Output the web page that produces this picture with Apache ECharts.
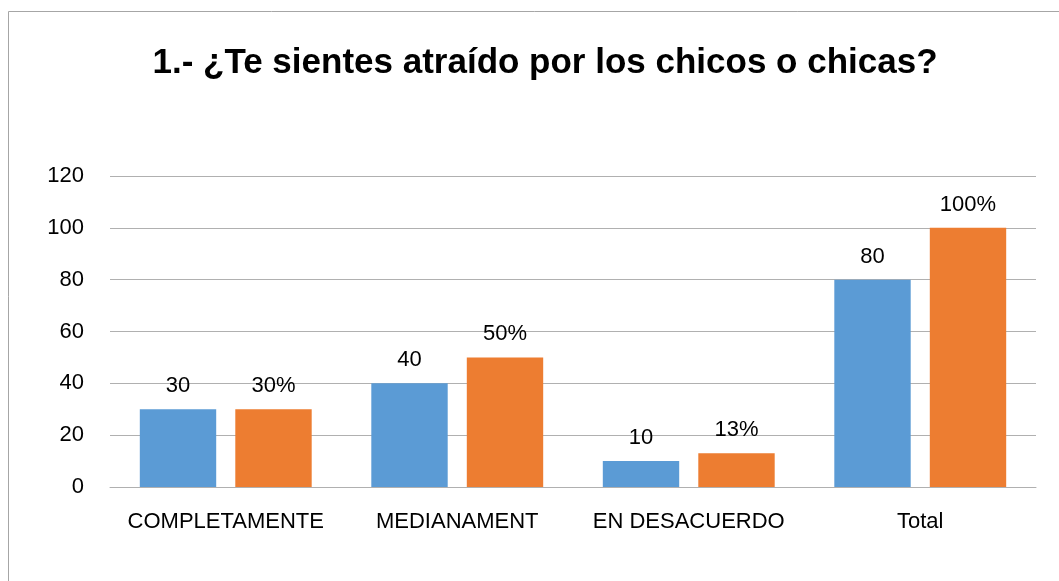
<!DOCTYPE html>
<html>
<head>
<meta charset="utf-8">
<script src="https://cdn.jsdelivr.net/npm/echarts@6/dist/echarts.min.js"></script>
<style>
  html,body{margin:0;padding:0;background:#fff;}
  #grafico{width:1059px;height:581px;}
</style>
</head>
<body>
<div id="grafico"></div>
<script>
// datos de la encuesta
var categorias = ['COMPLETAMENTE', 'MEDIANAMENT', 'EN DESACUERDO', 'Total'];
var cantidad = [30, 40, 10, 80];
var porcentaje = [30, 50, 13, 100];
var ejeY = { min: 0, max: 120, intervalo: 20 };

var myChart = echarts.init(document.getElementById('grafico'));

var fuente = '"Liberation Sans", Arial, sans-serif';

option = {
    animation: false,
    title: {
        text: '1.- ¿Te sientes atraído por los chicos o chicas?',
        left: 540,
        top: 41,
        textAlign: 'center',
        textStyle: {
            fontFamily: fuente,
            fontWeight: 'bold',
            fontSize: 35,
            color: '#000'
        }
    },
    graphic: [{
        type: 'rect',
        shape: { x: 8.5, y: 11.5, width: 1100, height: 620 },
        style: { fill: 'none', stroke: '#a6a6a6', lineWidth: 1 },
        silent: true
    }],
    grid: {
        left: 110,
        right: 23,
        top: 176,
        bottom: 94
    },
    xAxis: {
        type: 'category',
        data: categorias,
        axisTick: { show: false },
        axisLine: { lineStyle: { color: '#b0b0b0', width: 1 } },
        axisLabel: {
            interval: 0,
            fontFamily: fuente,
            fontSize: 22,
            color: '#000',
            margin: 24
        }
    },
    yAxis: {
        type: 'value',
        min: ejeY.min,
        max: ejeY.max,
        interval: ejeY.intervalo,
        axisLine: { show: false },
        axisTick: { show: false },
        splitLine: { lineStyle: { color: '#b0b0b0', width: 1 } },
        axisLabel: {
            fontFamily: fuente,
            fontSize: 22,
            color: '#000',
            margin: 26
        }
    },
    series: [
        {
            name: 'Cantidad',
            type: 'bar',
            data: cantidad,
            barWidth: '33%',
            barGap: '25%',
            itemStyle: { color: '#5b9bd5' },
            label: {
                show: true,
                position: 'top',
                distance: 12,
                fontFamily: fuente,
                fontSize: 22,
                color: '#000'
            }
        },
        {
            name: 'Porcentaje',
            type: 'bar',
            data: porcentaje,
            barWidth: '33%',
            itemStyle: { color: '#ed7d31' },
            label: {
                show: true,
                position: 'top',
                distance: 12,
                fontFamily: fuente,
                fontSize: 22,
                color: '#000',
                formatter: '{c}%'
            }
        }
    ]
};
myChart.setOption(option);
</script>
</body>
</html>
